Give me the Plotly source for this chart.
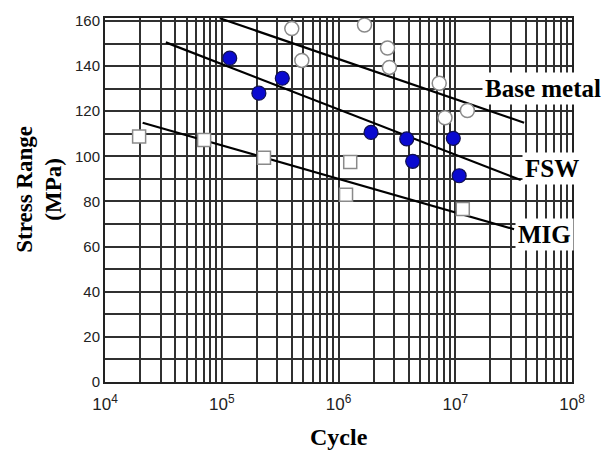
import plotly.graph_objects as go

# ---- data ----
base_cycles = [3.98e5, 4.85e5, 1.67e6, 2.63e6, 2.73e6, 7.29e6, 8.17e6, 1.27e7]
base_stress = [156.6, 142.5, 158.2, 148.0, 139.4, 132.4, 117.1, 120.3]

fsw_cycles = [1.17e5, 2.08e5, 3.30e5, 1.90e6, 3.84e6, 4.32e6, 9.62e6, 1.08e7]
fsw_stress = [143.5, 128.0, 134.6, 110.6, 107.7, 97.8, 108.0, 91.4]

mig_cycles = [1.96e4, 7.06e4, 2.30e5, 1.26e6, 1.16e6, 1.16e7]
mig_stress = [108.8, 107.2, 99.4, 97.5, 83.0, 76.7]

# fitted S-N lines (end points)
base_line_x = [9.6e4, 3.89e7]
base_line_y = [161.2, 114.9]
fsw_line_x = [3.32e4, 3.64e7]
fsw_line_y = [150.5, 89.5]
mig_line_x = [2.10e4, 3.19e7]
mig_line_y = [114.9, 67.7]

line_labels = ["Base metal", "FSW", "MIG"]

x_major = [1e4, 1e5, 1e6, 1e7, 1e8]
x_major_text = ["10<sup>4</sup>", "10<sup>5</sup>", "10<sup>6</sup>", "10<sup>7</sup>", "10<sup>8</sup>"]
x_minor = [m * 10 ** e for e in range(4, 8) for m in range(2, 10)]
y_ticks = [0, 20, 40, 60, 80, 100, 120, 140, 160]

fig = go.Figure()

for lx, ly in [(base_line_x, base_line_y), (fsw_line_x, fsw_line_y), (mig_line_x, mig_line_y)]:
    fig.add_trace(go.Scatter(x=lx, y=ly, mode="lines",
                             line=dict(color="black", width=2.2),
                             showlegend=False, cliponaxis=True))

fig.add_trace(go.Scatter(x=base_cycles, y=base_stress, mode="markers",
                         marker=dict(symbol="circle", size=14, color="white",
                                     line=dict(color="#8a8a8a", width=1.5)),
                         showlegend=False))
fig.add_trace(go.Scatter(x=fsw_cycles, y=fsw_stress, mode="markers",
                         marker=dict(symbol="circle", size=14, color="#0a0ad0",
                                     line=dict(color="#101050", width=1.2)),
                         showlegend=False))
fig.add_trace(go.Scatter(x=mig_cycles, y=mig_stress, mode="markers",
                         marker=dict(symbol="square", size=13, color="white",
                                     line=dict(color="#8a8a8a", width=1.5)),
                         showlegend=False))

label_pos = [(7.225, 129.9), (7.57, 94.6), (7.515, 65.4)]
for txt, (lx, ly) in zip(line_labels, label_pos):
    fig.add_annotation(x=lx, y=ly, xref="x", yref="y", text="<b>%s</b>" % txt,
                       showarrow=False, xanchor="left", yanchor="middle",
                       bgcolor="white", borderpad=2,
                       font=dict(family="Liberation Serif", size=25, color="black"))

fig.add_annotation(x=-0.142, y=0.53, xref="paper", yref="paper",
                   text="<b>Stress Range<br>(MPa)</b>", textangle=-90,
                   showarrow=False, xanchor="center", yanchor="middle",
                   font=dict(family="Liberation Serif", size=23, color="black"))
fig.add_annotation(x=0.5, y=-0.151, xref="paper", yref="paper",
                   text="<b>Cycle</b>", showarrow=False,
                   xanchor="center", yanchor="middle",
                   font=dict(family="Liberation Serif", size=24, color="black"))

grid_col = "#303030"
fig.update_xaxes(type="log", range=[4, 8], tickvals=x_major, ticktext=x_major_text,
                 showgrid=True, gridcolor=grid_col, gridwidth=1.6,
                 minor=dict(tickvals=x_minor, showgrid=True, gridcolor=grid_col, gridwidth=1.6, ticklen=0),
                 showline=True, linecolor="#222", linewidth=2, mirror=True,
                 ticks="", ticklabelstandoff=6,
                 tickfont=dict(family="Liberation Sans", size=17, color="#222"),
                 zeroline=False)
fig.update_yaxes(range=[0, 161.3], tickvals=y_ticks,
                 showgrid=True, gridcolor=grid_col, gridwidth=1.6,
                 minor=dict(dtick=10, showgrid=True, gridcolor=grid_col, gridwidth=1.6, ticklen=0),
                 showline=True, linecolor="#222", linewidth=2, mirror=True,
                 ticks="", tickfont=dict(family="Liberation Sans", size=15, color="#222"),
                 zeroline=False)

fig.update_layout(width=607, height=453, margin=dict(l=105, r=35, t=12, b=71),
                  paper_bgcolor="white", plot_bgcolor="white")

fig.write_html("out.html")
